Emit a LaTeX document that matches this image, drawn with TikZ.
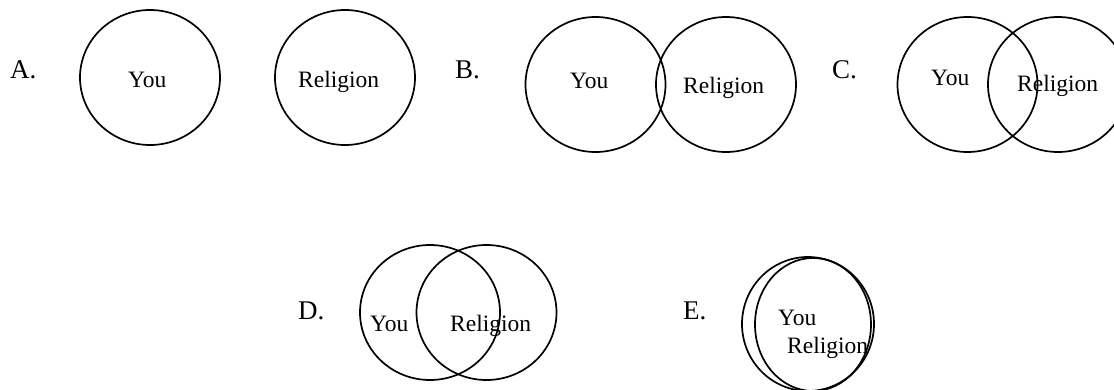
\documentclass[tikz,border=0pt]{standalone}
\usepackage{fontspec}
\setmainfont{Liberation Serif}
\usetikzlibrary{shapes.geometric}
\tikzset{
  venn/.style={draw, ellipse, line width=1.7pt, inner sep=0pt, minimum width=140pt, minimum height=135pt},
  txt/.style={anchor=base west, inner sep=0pt, font=\fontsize{23.5}{28}\selectfont},
  lbl/.style={anchor=base west, inner sep=0pt, font=\fontsize{27}{32}\selectfont}
}
\begin{document}
\begin{tikzpicture}[x=1pt, y=-1pt]
\useasboundingbox (0,0) rectangle (1114,390);
\clip (0,0) rectangle (1114,390);
% A
\node[lbl] (la) at (10,79) {A.};
\node[venn] (a1) at (150,77.5) {};
\node[venn] (a2) at (345,77.5) {};
\node[txt] (a1t) at (128,88) {You};
\node[txt] (a2t) at (298,88) {Religion};
% B
\node[lbl] (lb) at (455,79) {B.};
\node[venn] (b1) at (595.5,84.5) {};
\node[venn] (b2) at (726,84.5) {};
\node[txt] (b1t) at (570,89) {You};
\node[txt] (b2t) at (683,94) {Religion};
% C
\node[lbl] (lc) at (832,79) {C.};
\node[venn] (c1) at (967.5,84.5) {};
\node[venn] (c2) at (1058,84.5) {};
\node[txt] (c1t) at (931,86) {You};
\node[txt] (c2t) at (1017,92) {Religion};
% D
\node[lbl] (ld) at (298,319) {D.};
\node[venn] (d1) at (430,312.5) {};
\node[venn] (d2) at (486.5,312.5) {};
\node[txt] (d1t) at (370,331) {You};
\node[txt] (d2t) at (450,331) {Religion};
% E
\node[lbl] (le) at (683,319) {E.};
\node[venn, minimum width=132pt, minimum height=134pt] (e1) at (808,324) {};
\node[venn, minimum width=116pt, minimum height=133pt] (e2) at (813,324.5) {};
\node[txt] (e1t) at (778,325) {You};
\node[txt] (e2t) at (787,353) {Religion};
\end{tikzpicture}
\end{document}
